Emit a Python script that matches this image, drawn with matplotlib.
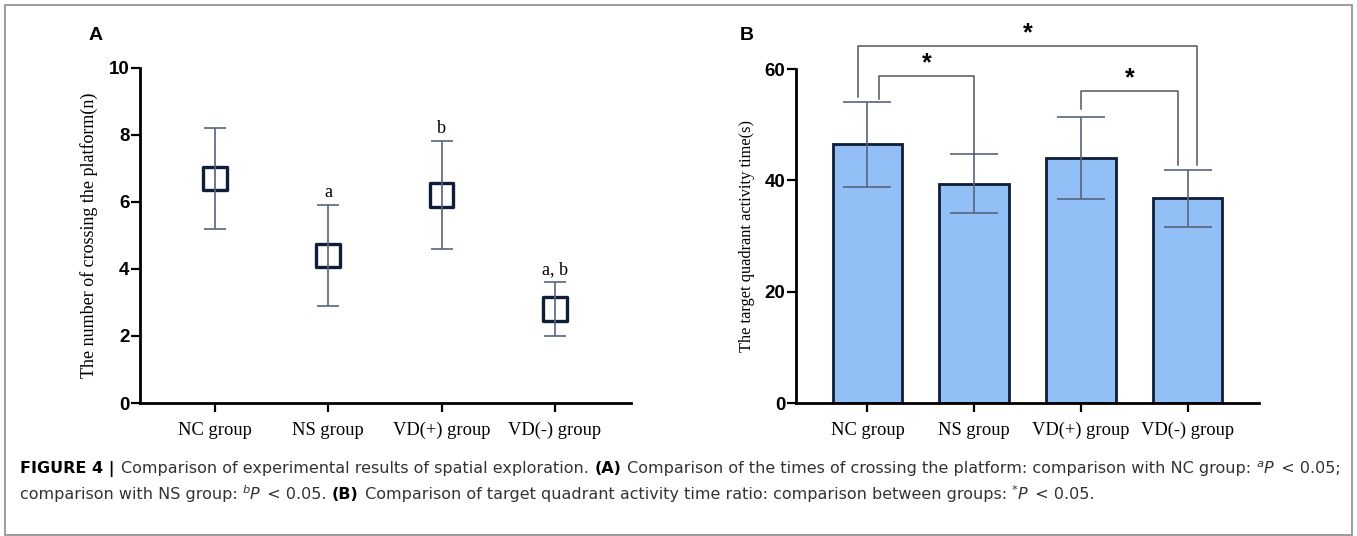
import matplotlib
matplotlib.use("Agg")
import matplotlib.pyplot as plt
import numpy as np
from matplotlib.patches import Rectangle

groups = ["NC group", "NS group", "VD(+) group", "VD(-) group"]

# panel A: crossings of the platform (mean, sd)
cross_mean = [6.7, 4.4, 6.2, 2.8]
cross_sd = [1.5, 1.5, 1.6, 0.8]
cross_marks = ["", "a", "b", "a, b"]

# panel B: target quadrant activity time (mean, sd)
time_mean = [46.5, 39.4, 44.0, 36.8]
time_sd = [7.6, 5.3, 7.4, 5.1]
# brackets: (left group, right group, top, left foot, right foot)
brackets = [(0, 3, 64.1, 55.0, 42.8), (0, 1, 58.8, 54.6, 44.8), (2, 3, 56.1, 52.8, 42.8)]

W, H = 1357, 536
DARK = "#0f1d38"
ERR = "#56647e"
SERIF = ["Liberation Serif", "DejaVu Serif"]
SANS = ["Liberation Sans", "DejaVu Sans"]


def style_axes(ax):
    for s in ["top", "right"]:
        ax.spines[s].set_visible(False)
    for s in ["left", "bottom"]:
        ax.spines[s].set_linewidth(2.0)
        ax.spines[s].set_color("black")
    ax.tick_params(axis="both", length=6.5, width=1.6, color="black")
    ax.tick_params(axis="y", pad=1)
    ax.tick_params(axis="x", pad=7)
    for lab in ax.get_yticklabels():
        lab.set_family(SANS)
        lab.set_fontweight("bold")
        lab.set_fontsize(13.5)
    for lab in ax.get_xticklabels():
        lab.set_family(SERIF)
        lab.set_fontsize(13.3)


def text_runs(fig, x, y, runs, size):
    # put pieces of text one after another, x, y in pixels from top-left
    r = fig.canvas.get_renderer()
    dot = fig.text(0, 0, ".", fontsize=size, family="DejaVu Sans")
    dw = dot.get_window_extent(r).width
    dot.remove()
    for txt, st in runs:
        kw = dict(fontsize=size, family="DejaVu Sans", color="#333333", va="baseline")
        yy = y
        if st == "b":
            kw["fontweight"] = "bold"
            kw["color"] = "black"
        elif st == "i":
            kw["fontstyle"] = "italic"
        elif st == "sup":
            kw["fontsize"] = size * 0.72
            kw["fontstyle"] = "italic"
            yy = y - 6
        t = fig.text(x / W, 1 - yy / H, txt + ".", **kw)
        w = t.get_window_extent(r).width
        t.set_text(txt)
        x += w - dw * kw["fontsize"] / size


fig = plt.figure(figsize=(W / 100, H / 100), dpi=100)
fig.patches.append(Rectangle((5 / W, 1 - 535 / H), 1347 / W, 530 / H, transform=fig.transFigure,
                             fill=False, edgecolor="#8c8c8c", linewidth=1.2))

# ---- panel A
axA = fig.add_axes([140 / W, 1 - 403 / H, 491 / W, 335.3 / H])
x = np.arange(len(groups))
axA.errorbar(x, cross_mean, yerr=cross_sd, fmt="none", ecolor=ERR, elinewidth=1.2,
             capsize=8, capthick=1.2, zorder=3)
axA.scatter(x, cross_mean, marker="s", s=290, facecolors="none", edgecolors=DARK,
            linewidths=2.4, zorder=2)
for i, m in enumerate(cross_marks):
    if m:
        axA.text(x[i], cross_mean[i] + cross_sd[i] + 0.12, m, ha="center", va="bottom",
                 family=SERIF, fontsize=13)
axA.set_xlim(-0.66, 3.67)
axA.set_ylim(0, 10)
axA.set_yticks([0, 2, 4, 6, 8, 10])
axA.set_xticks(x)
axA.set_xticklabels(groups)
axA.set_ylabel("The number of crossing the platform(n)", family=SERIF, fontsize=13, labelpad=8)
style_axes(axA)
fig.text(89 / W, 1 - 36 / H, "A", family=SANS, fontweight="bold", fontsize=14, va="center")

# ---- panel B
axB = fig.add_axes([796 / W, 1 - 403.3 / H, 463 / W, 334.3 / H])
axB.bar(x, time_mean, width=0.65, color="#93bff7", edgecolor=DARK, linewidth=2.0, zorder=2)
axB.errorbar(x, time_mean, yerr=time_sd, fmt="none", ecolor=ERR, elinewidth=1.2,
             capsize=17, capthick=1.2, zorder=3)
offs = {0: {3: -0.09, 1: 0.105}, 1: {0: 0.0}, 2: {3: 0.0}, 3: {0: 0.09, 2: -0.09}}
for a, b, top, fa, fb in brackets:
    xa = a + offs[a][b]
    xb = b + offs[b][a]
    axB.plot([xa, xa, xb, xb], [fa, top, top, fb], color="#555555", lw=1.1,
             clip_on=False, zorder=4)
    axB.text((xa + xb) / 2, top + 0.1, "*", ha="center", va="bottom", family=SANS,
             fontweight="bold", fontsize=18, clip_on=False)
axB.set_xlim(-0.67, 3.67)
axB.set_ylim(0, 60)
axB.set_yticks([0, 20, 40, 60])
axB.set_xticks(x)
axB.set_xticklabels(groups)
axB.set_ylabel("The target quadrant activity time(s)", family=SERIF, fontsize=11.8, labelpad=7)
style_axes(axB)
fig.text(740 / W, 1 - 36 / H, "B", family=SANS, fontweight="bold", fontsize=14, va="center")

# ---- caption
fig.canvas.draw()
text_runs(fig, 20, 473, [
    ("FIGURE 4 | ", "b"),
    ("Comparison of experimental results of spatial exploration. ", "n"),
    ("(A)", "b"),
    (" Comparison of the times of crossing the platform: comparison with NC group: ", "n"),
    ("a", "sup"), ("P", "i"), ("  < 0.05;", "n")], 11.5)
text_runs(fig, 20, 499, [
    ("comparison with NS group: ", "n"),
    ("b", "sup"), ("P", "i"), ("  < 0.05. ", "n"),
    ("(B)", "b"),
    (" Comparison of target quadrant activity time ratio: comparison between groups: ", "n"),
    ("*", "sup"), ("P", "i"), ("  < 0.05.", "n")], 11.5)

fig.savefig("out.png", dpi=100)
